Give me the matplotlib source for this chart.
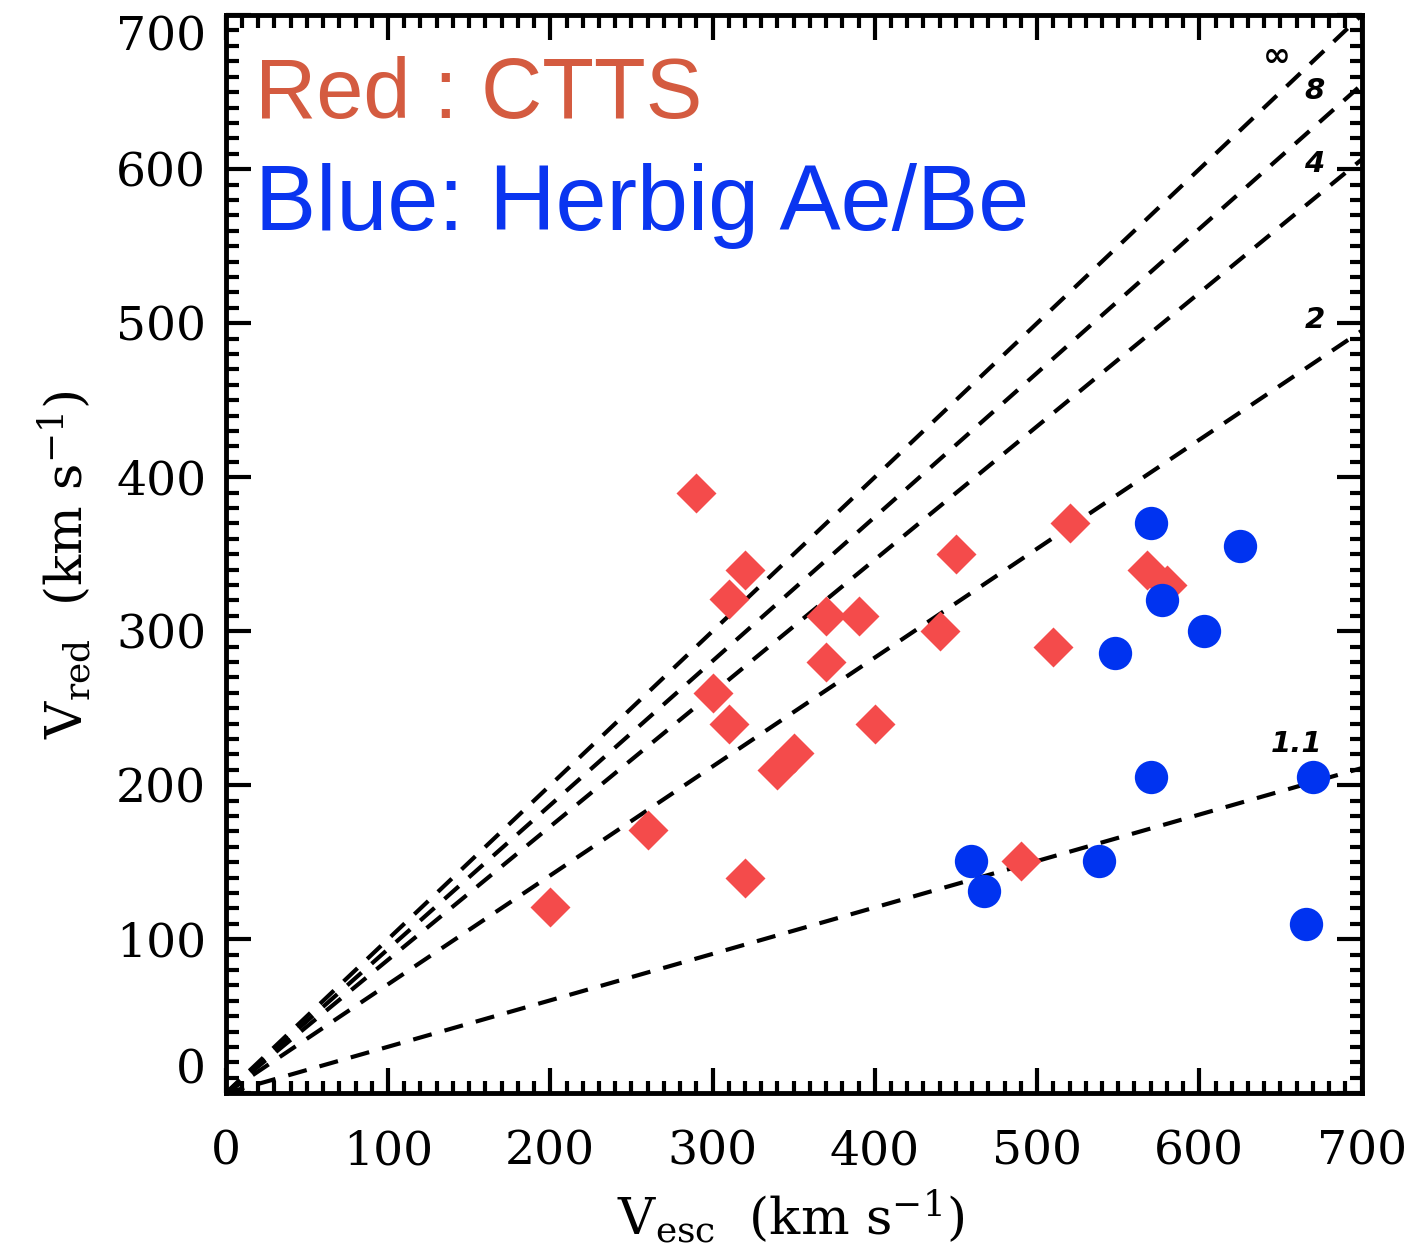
import numpy as np
import matplotlib
matplotlib.use("Agg")
import matplotlib.pyplot as plt
from matplotlib.ticker import MultipleLocator

# CTTS (red diamonds): escape velocity vs red absorption velocity, km/s
ctts_vesc = [200, 260, 290, 300, 310, 310, 320, 320, 340, 350, 370, 370, 390, 400,
             440, 450, 490, 510, 520, 568, 580]
ctts_vred = [121, 171, 390, 260, 321, 240, 340, 140, 210, 221, 310, 280, 310, 240,
             300, 350, 151, 290, 370, 340, 330]

# Herbig Ae/Be (blue circles)
haebe_vesc = [459, 467, 538, 548, 570, 570, 577, 603, 625, 666, 670]
haebe_vred = [151, 131, 151, 286, 370, 205, 320, 300, 355, 110, 205]

# infall radius r/R* for the free-fall curves, and their labels
radii = [np.inf, 8, 4, 2, 1.1]
radius_labels = ["\u221e", "8", "4", "2", "1.1"]
label_x = [648, 671, 671, 671, 660]
label_y = [673, 651, 603, 502, 227]

plt.rcParams["mathtext.fontset"] = "dejavuserif"

fig = plt.figure(figsize=(14.11, 12.58), dpi=100)
ax = fig.add_axes([0.160, 0.131, 0.805, 0.857])

vx = np.array([0.0, 700.0])
for r in radii:
    slope = np.sqrt(1.0 - 1.0 / r)
    ax.plot(vx, slope * vx, color="black", lw=3.0, dashes=(4.6, 3.2), zorder=2)

for txt, lx, ly in zip(radius_labels, label_x, label_y):
    ax.text(lx, ly, txt, fontsize=24 if txt == "\u221e" else 21, fontstyle="italic",
            fontweight="bold", ha="center", va="center", color="black", zorder=3)

ax.plot(ctts_vesc, ctts_vred, "D", ms=20, color="#F44B4B", mec="none", zorder=4)
ax.plot(haebe_vesc, haebe_vred, "o", ms=24, color="#0033F0", mec="none", zorder=4)

ax.set_xlim(0, 700)
ax.set_ylim(0, 700)
ax.xaxis.set_major_locator(MultipleLocator(100))
ax.yaxis.set_major_locator(MultipleLocator(100))
ax.xaxis.set_minor_locator(MultipleLocator(10))
ax.yaxis.set_minor_locator(MultipleLocator(10))
ax.tick_params(which="both", direction="in", top=True, right=True, width=3, color="black")
ax.tick_params(which="major", length=18)
ax.tick_params(which="minor", length=9)
ax.tick_params(axis="x", which="major", pad=26)
ax.tick_params(axis="y", which="major", pad=14)
fig.canvas.draw()
for lab in ax.get_xticklabels() + ax.get_yticklabels():
    lab.set_family("DejaVu Serif")
    lab.set_fontsize(34)
# IDL-style: end labels of the y axis sit inside the axis range
for tick in ax.yaxis.get_major_ticks():
    if np.isclose(tick.get_loc(), 0):
        tick.label1.set_va("bottom")
    elif np.isclose(tick.get_loc(), 700):
        tick.label1.set_va("top")
for sp in ax.spines.values():
    sp.set_linewidth(3.5)

ax.set_xlabel(r"V$_{\rm esc}$  (km s$^{-1}$)", fontsize=37, family="DejaVu Serif")
ax.set_ylabel(r"V$_{\rm red}$  (km s$^{-1}$)", fontsize=37, family="DejaVu Serif")
ax.xaxis.set_label_coords(0.497, -0.088)
ax.yaxis.set_label_coords(-0.117, 0.49)

ax.text(0.0255, 0.905, "Red : CTTS", transform=ax.transAxes, fontsize=61,
        family="Liberation Sans", color="#D45B40", ha="left", va="baseline")
ax.text(0.0255, 0.801, "Blue: Herbig Ae/Be", transform=ax.transAxes, fontsize=66,
        family="Liberation Sans", color="#0A35F0", ha="left", va="baseline")

fig.savefig("out.png", dpi=100)
